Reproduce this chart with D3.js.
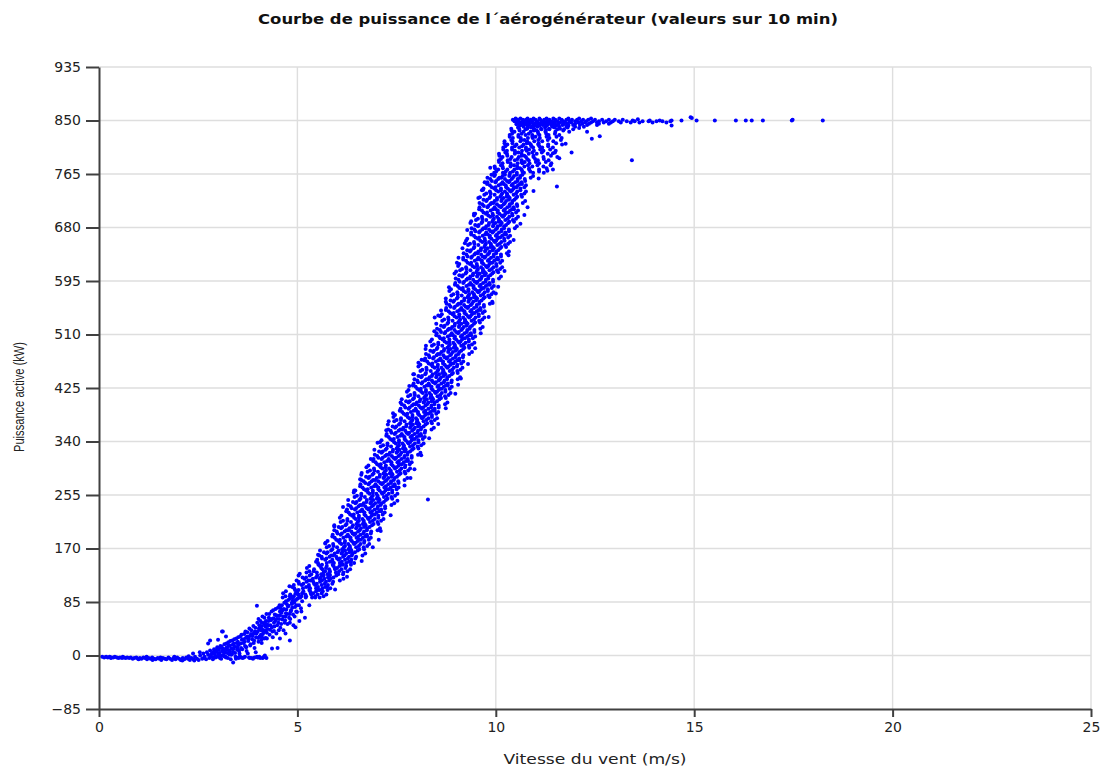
<!DOCTYPE html>
<html><head><meta charset="utf-8">
<script src="https://cdn.jsdelivr.net/npm/d3@7"></script>
<style>body{margin:0;background:#fff}svg{display:block}</style>
</head><body><svg id="c" width="1106" height="770"></svg>
<script>
const title = "Courbe de puissance de l´aérogénérateur (valeurs sur 10 min)";
const xLabel = "Vitesse du vent (m/s)";
const yLabel = "Puissance active (kW)";
const xTicks = [0,5,10,15,20,25];
const yTicks = [-85,0,85,170,255,340,425,510,595,680,765,850,935];

// [wind speed m/s, power kW]
const flatPoints = [[0.08,-2],[0.13,-3],[0.18,-2],[0.22,-3],[0.27,-2],[0.31,-3],[0.36,-3],[0.4,-2],[0.45,-3],[0.49,-4],[0.53,-3],[0.58,-4],[0.62,-3],[0.67,-4],[0.71,-3],[0.76,-4],[0.8,-3],[0.85,-5],[0.89,-4],[0.94,-3],[0.98,-5],[1.03,-4],[1.07,-5],[1.12,-3],[1.16,-4],[1.21,-6],[1.25,-4],[1.3,-5],[1.34,-3],[1.39,-5],[1.43,-6],[1.48,-4],[1.52,-5],[1.57,-7],[1.61,-4],[1.66,-5],[1.7,-6],[1.75,-3],[1.79,-5],[1.84,-7],[1.88,-4],[1.93,-6],[1.97,-3],[2.02,-5],[2.06,-7],[2.11,-4],[2.15,-6],[2.2,-3],[2.24,-5],[2.29,-7],[2.33,-4],[2.38,-6],[2.42,-2],[2.47,-5],[2.51,-7],[0.6,-2],[1.0,-6],[1.35,-7],[1.55,-3],[1.9,-2],[2.1,-8],[2.26,-1],[2.4,-8],[1.2,-2],[0.3,-4]];

const lowPoints = [[2.55,0],[2.6,-5],[2.63,3],[2.66,-2],[2.7,-6],[2.72,5],[2.75,1],[2.78,-4],[2.8,8],[2.82,-1],[2.85,4],[2.87,-6],[2.9,10],[2.92,2],[2.94,-3],[2.96,6],[2.98,13],[3.0,-2],[3.02,9],[3.04,4],[3.06,15],[3.08,-5],[3.1,7],[3.12,11],[3.14,1],[3.16,18],[3.18,5],[3.2,-3],[3.22,13],[3.24,9],[3.26,21],[3.28,2],[3.3,16],[3.32,-6],[3.34,11],[3.36,24],[3.38,6],[3.4,19],[3.42,14],[3.44,-2],[3.46,27],[3.48,9],[3.5,22],[3.52,17],[3.54,3],[3.56,30],[3.58,12],[3.6,25],[3.62,-4],[3.64,20],[3.66,34],[3.68,15],[3.7,28],[3.72,7],[3.74,37],[3.76,23],[3.78,-3],[3.8,31],[3.82,18],[3.84,40],[3.86,26],[3.88,-5],[3.9,35],[3.92,12],[3.94,44],[3.96,29],[3.98,-2],[4.0,38],[4.02,22],[4.04,48],[4.06,-4],[4.08,33],[4.1,52],[4.12,41],[4.14,-3],[4.16,27],[4.18,0],[4.22,-4],[4.2,46],
[2.37,3],[2.54,5],[2.8,24],[2.75,19],[3.0,25],[3.1,38],[3.12,38],[3.98,79],[3.38,-11],[3.2,30],
[2.65,-4],[2.88,-3],[3.05,-4],[3.25,-4],[3.45,-5],[3.65,-3],[3.85,-4],[4.0,-3],[3.15,-1],[3.35,2],[3.55,-1],[3.75,3],[3.95,5],[3.3,6],[3.5,10],[3.7,14],[3.9,20],[4.1,30],
[4.02,58],[4.05,30],[4.07,45],[4.1,20],[4.12,62],[4.15,37],[4.17,50],[4.2,28],[4.22,66],[4.25,42],[4.27,55],[4.3,33],[4.32,48],[4.35,70],[4.37,38],[4.4,59],[4.42,46],[4.45,74],[4.47,35],[4.5,63],[4.52,52],[4.55,80],[4.57,44],[4.6,68],[4.62,57],[4.65,40],[4.67,84],[4.7,62],[4.72,73],[4.75,50],[4.77,88],[4.8,66],[4.82,58],[4.85,93],[4.87,76],[4.9,48],[4.92,84],[4.95,98],[4.97,70],[5.0,90],[4.33,56],[4.48,58],[4.63,72],[4.78,79],[4.93,62],[4.18,53],[4.28,60],[4.43,65],[4.58,75],[4.73,82],[4.88,87],[4.38,29],[4.53,40],[4.68,52],[4.83,70],[4.98,80],[4.08,40],[4.24,49],[4.41,52],[4.56,64],[4.71,67],[4.86,82],
[4.23,27],[4.56,27],[4.81,24],[4.36,11],[4.81,52],[5.19,60],[4.5,12],[4.7,35],[4.95,45],[5.1,70],[5.3,80],[5.05,55],[5.45,92]];

const lowPoints2 = [[2.83,2],[2.89,6],[2.93,-1],[2.97,9],[3.01,3],[3.03,12],[3.07,0],[3.09,14],[3.13,6],[3.17,10],[3.19,-2],[3.21,19],[3.23,4],[3.27,15],[3.29,8],[3.31,23],[3.33,1],[3.37,17],[3.39,11],[3.41,26],[3.43,4],[3.47,20],[3.49,14],[3.51,29],[3.53,7],[3.57,19],[3.59,33],[3.61,10],[3.63,26],[3.67,22],[3.69,38],[3.71,13],[3.73,30],[3.77,27],[3.79,43],[3.81,16],[3.83,34],[3.87,31],[3.89,47],[3.91,24],[3.93,38],[3.97,35],[3.99,52],[4.01,28],[4.03,43],[4.07,55],[4.09,25],[4.11,47],[4.13,34],[4.17,60],[4.19,40],[4.21,55],[4.23,36],[4.27,48],[4.29,66],[4.31,41],[4.34,58],[4.36,45],[4.39,72],[4.41,39],[4.44,55],[4.46,64],[4.49,48],[4.51,76],[4.54,58],[4.56,70],[4.59,50],[4.61,80],[4.64,62],[4.66,74],[4.69,56],[4.71,86],[4.74,66],[4.76,78],[4.79,60],[4.81,90],[4.84,72],[4.86,84],[4.89,65],[4.91,94],[4.94,77],[4.96,88],[4.99,69],[5.02,96],[5.04,80],[5.07,92],[5.09,75],[5.12,86],
[3.58,-3],[3.68,-2],[3.8,-4],[3.92,-3],[4.04,-2],[4.12,-4],[4.16,-2],[3.46,-3],[3.52,-4]];

// rows: [power kW, wind speeds of the points at that power...]
const rampRows = [
[92,4.63,4.89,5.06,5.21,5.37,5.56],[97,4.82,5.03,5.20,5.35,5.51,5.73],[102,4.71,4.98,5.15,5.32,5.47,5.64],[107,4.92,5.14,5.32,5.47,5.63,5.83],
[112,4.91,5.11,5.29,5.45,5.61,5.77],[117,5.03,5.23,5.40,5.57,5.72,5.90],[122,5.18,5.39,5.56,5.68,5.84,6.16],[127,5.03,5.31,5.50,5.66,5.82,5.98],
[132,5.23,5.49,5.66,5.81,5.97,6.16],[137,5.42,5.63,5.80,5.95,6.11,6.33],[142,5.30,5.57,5.74,5.91,6.06,6.23],[147,5.52,5.74,5.92,6.07,6.23,6.43],
[152,5.50,5.70,5.88,6.04,6.20,6.36],[157,5.61,5.81,5.98,6.15,6.30,6.48],[162,5.73,5.94,6.11,6.23,6.39,6.71],[167,5.57,5.85,6.04,6.20,6.36,6.52],
[172,5.74,6.00,6.17,6.32,6.48,6.67],[177,5.90,6.11,6.28,6.43,6.59,6.81],[182,5.76,6.03,6.20,6.37,6.52,6.69],[187,5.94,6.16,6.34,6.49,6.65,6.85],
[192,5.89,6.09,6.27,6.43,6.59,6.75],[197,5.99,6.19,6.36,6.53,6.68,6.86],[202,6.10,6.31,6.48,6.60,6.76,7.08],[207,5.93,6.21,6.40,6.56,6.72,6.88],
[212,6.09,6.35,6.52,6.67,6.83,7.02],[217,6.26,6.47,6.64,6.79,6.95,7.17],[222,6.11,6.38,6.55,6.72,6.87,7.04],[227,6.29,6.51,6.69,6.84,7.00,7.20],
[232,6.25,6.45,6.63,6.79,6.95,7.11],[237,6.34,6.54,6.71,6.88,7.03,7.21],[242,6.46,6.67,6.84,6.96,7.12,7.44],[247,6.28,6.56,6.75,6.91,7.07,7.23],
[252,6.44,6.70,6.87,7.02,7.18,7.37],[257,6.61,6.82,6.99,7.14,7.30,7.52],[262,6.46,6.73,6.90,7.07,7.22,7.39],[267,6.64,6.86,7.04,7.19,7.35,7.55],
[272,6.59,6.79,6.97,7.13,7.29,7.45],[277,6.67,6.87,7.04,7.21,7.36,7.54],[282,6.79,7.00,7.17,7.29,7.45,7.77],[287,6.61,6.89,7.08,7.24,7.40,7.56],
[292,6.77,7.03,7.20,7.35,7.51,7.70],[297,6.93,7.14,7.31,7.46,7.62,7.84],[302,6.79,7.06,7.23,7.40,7.55,7.72],[307,6.97,7.19,7.37,7.52,7.68,7.88],
[312,6.92,7.12,7.30,7.46,7.62,7.78],[317,7.01,7.21,7.38,7.55,7.70,7.88],[322,7.12,7.33,7.50,7.62,7.78,8.10],[327,6.94,7.22,7.41,7.57,7.73,7.89],
[332,7.10,7.36,7.53,7.68,7.84,8.03],[337,7.27,7.48,7.65,7.80,7.96,8.18],[342,7.12,7.39,7.56,7.73,7.88,8.05],[347,7.30,7.52,7.70,7.85,8.01,8.21],
[352,7.25,7.45,7.63,7.79,7.95,8.11],[357,7.35,7.55,7.72,7.89,8.04,8.22],[362,7.46,7.67,7.84,7.96,8.12,8.44],[367,7.28,7.56,7.75,7.91,8.07,8.23],
[372,7.44,7.70,7.87,8.02,8.18,8.37],[377,7.61,7.82,7.99,8.14,8.30,8.52],[382,7.46,7.73,7.90,8.07,8.22,8.39],[387,7.64,7.86,8.04,8.19,8.35,8.55],
[392,7.60,7.80,7.98,8.14,8.30,8.46],[397,7.69,7.89,8.06,8.23,8.38,8.56],[402,7.80,8.01,8.18,8.30,8.46,8.78],[407,7.63,7.91,8.10,8.26,8.42,8.58],
[412,7.79,8.05,8.22,8.37,8.53,8.72],[417,7.95,8.16,8.33,8.48,8.64,8.86],[422,7.80,8.07,8.24,8.41,8.56,8.73],[427,7.98,8.20,8.38,8.53,8.69,8.89],
[432,7.93,8.13,8.31,8.47,8.63,8.79],[437,8.02,8.22,8.39,8.56,8.71,8.89],[442,8.12,8.33,8.50,8.62,8.78,9.10],[447,7.94,8.22,8.41,8.57,8.73,8.89],
[452,8.10,8.36,8.53,8.68,8.84,9.03],[457,8.25,8.46,8.63,8.78,8.94,9.16],[462,8.10,8.37,8.54,8.71,8.86,9.03],[467,8.27,8.49,8.67,8.82,8.98,9.18],
[472,8.22,8.42,8.60,8.76,8.92,9.08],[477,8.31,8.51,8.68,8.85,9.00,9.18],[482,8.42,8.63,8.80,8.92,9.08,9.40],[487,8.23,8.51,8.70,8.86,9.02,9.18],
[492,8.39,8.65,8.82,8.97,9.13,9.32],[497,8.55,8.76,8.93,9.08,9.24,9.46],[502,8.39,8.66,8.83,9.00,9.15,9.32],[507,8.57,8.79,8.97,9.12,9.28,9.48],
[512,8.51,8.71,8.89,9.05,9.21,9.37],[517,8.59,8.79,8.96,9.13,9.28,9.46],[522,8.69,8.90,9.07,9.19,9.35,9.67],[527,8.50,8.78,8.97,9.13,9.29,9.45],
[532,8.65,8.91,9.08,9.23,9.39,9.58],[537,8.80,9.01,9.18,9.33,9.49,9.71],[542,8.64,8.91,9.08,9.25,9.40,9.57],[547,8.81,9.03,9.21,9.36,9.52,9.72],
[552,8.75,8.95,9.13,9.29,9.45,9.61],[557,8.83,9.03,9.20,9.37,9.52,9.70],[562,8.93,9.14,9.31,9.43,9.59,9.91],[567,8.74,9.02,9.21,9.37,9.53,9.69],
[572,8.88,9.14,9.31,9.46,9.62,9.81],[577,9.03,9.24,9.41,9.56,9.72,9.94],[582,8.87,9.14,9.31,9.48,9.63,9.80],[587,9.04,9.26,9.44,9.59,9.75,9.95],
[592,8.98,9.18,9.36,9.52,9.68,9.84],[597,9.06,9.26,9.43,9.60,9.75,9.93],[602,9.15,9.36,9.53,9.65,9.81,10.13],[607,8.96,9.24,9.43,9.59,9.75,9.91],
[612,9.10,9.36,9.53,9.68,9.84,10.03],[617,9.25,9.46,9.63,9.78,9.94,10.16],[622,9.08,9.35,9.52,9.69,9.84,10.01],[627,9.25,9.47,9.65,9.80,9.96,10.16],
[632,9.18,9.38,9.56,9.72,9.88,10.04],[637,9.26,9.46,9.63,9.80,9.95,10.13],[642,9.35,9.56,9.73,9.85,10.01,10.33],[647,9.16,9.44,9.63,9.79,9.95,10.11],
[652,9.30,9.56,9.73,9.88,10.04,10.23],[657,9.45,9.66,9.83,9.98,10.14,10.36],[662,9.28,9.55,9.72,9.89,10.04,10.21],[667,9.45,9.67,9.85,10.00,10.16,10.36],
[672,9.38,9.58,9.76,9.92,10.08,10.24],[677,9.46,9.66,9.83,10.00,10.15,10.33],[682,9.55,9.76,9.93,10.05,10.21,10.53],[687,9.36,9.64,9.83,9.99,10.15,10.31],
[692,9.50,9.76,9.93,10.08,10.24,10.43],[697,9.65,9.86,10.03,10.18,10.34,10.56],[702,9.48,9.75,9.92,10.09,10.24,10.41],[707,9.65,9.87,10.05,10.20,10.36,10.56],
[712,9.59,9.79,9.97,10.13,10.29,10.45],[717,9.66,9.86,10.03,10.20,10.35,10.53],[722,9.76,9.97,10.14,10.26,10.42,10.74],[727,9.56,9.84,10.03,10.19,10.35,10.51],
[732,9.71,9.97,10.14,10.29,10.45,10.64],[737,9.85,10.06,10.23,10.38,10.54,10.76],[742,9.69,9.96,10.13,10.30,10.45,10.62],[747,9.85,10.07,10.25,10.40,10.56,10.76],
[752,9.79,9.99,10.17,10.33,10.49,10.65],[757,9.86,10.06,10.23,10.40,10.55,10.73],[762,9.96,10.17,10.34,10.46,10.62,10.94]];

const rampRows2 = [
[94,4.70,4.81,5.10,5.22,5.45,5.66],[99,4.64,5.00,5.12,5.34,5.40,5.61],[104,4.94,5.03,5.30,5.51,5.56,5.76],[109,4.87,5.22,5.29,5.52,5.70,5.75],
[114,5.04,5.15,5.42,5.49,5.69,5.88],[119,4.98,5.28,5.33,5.62,5.80,6.07],[124,5.13,5.22,5.47,5.59,5.77,5.91],[129,5.35,5.60,5.76,5.81,6.03,6.15],
[134,5.30,5.41,5.70,5.82,6.05,6.26],[139,5.24,5.60,5.72,5.94,6.00,6.21],[144,5.53,5.62,5.89,6.10,6.15,6.35],[149,5.47,5.82,5.89,6.12,6.30,6.35],
[154,5.62,5.73,6.00,6.07,6.27,6.46],[159,5.55,5.85,5.90,6.19,6.37,6.64],[164,5.67,5.76,6.01,6.13,6.31,6.45],[169,5.88,6.13,6.29,6.34,6.56,6.68],
[174,5.80,5.91,6.20,6.32,6.55,6.76],[179,5.71,6.07,6.19,6.41,6.47,6.68],[184,5.98,6.07,6.34,6.55,6.60,6.80],[189,5.88,6.23,6.30,6.53,6.71,6.76],
[194,6.01,6.12,6.39,6.46,6.66,6.85],[199,5.93,6.23,6.28,6.57,6.75,7.02],[204,6.04,6.13,6.38,6.50,6.68,6.82],[209,6.24,6.49,6.65,6.70,6.92,7.04],
[214,6.15,6.26,6.55,6.67,6.90,7.11],[219,6.07,6.43,6.55,6.77,6.83,7.04],[224,6.33,6.42,6.69,6.90,6.95,7.15],[229,6.23,6.58,6.65,6.88,7.06,7.11],
[234,6.37,6.48,6.75,6.82,7.02,7.21],[239,6.28,6.58,6.63,6.92,7.10,7.37],[244,6.40,6.49,6.74,6.86,7.04,7.18],[249,6.59,6.84,7.00,7.05,7.27,7.39],
[254,6.50,6.61,6.90,7.02,7.25,7.46],[259,6.42,6.78,6.90,7.12,7.18,7.39],[264,6.68,6.77,7.04,7.25,7.30,7.50],[269,6.58,6.93,7.00,7.23,7.41,7.46],
[274,6.71,6.82,7.09,7.16,7.36,7.55],[279,6.61,6.91,6.96,7.25,7.43,7.70],[284,6.73,6.82,7.07,7.19,7.37,7.51],[289,6.92,7.17,7.33,7.38,7.60,7.72],
[294,6.83,6.94,7.23,7.35,7.58,7.79],[299,6.74,7.10,7.22,7.44,7.50,7.71],[304,7.01,7.10,7.37,7.58,7.63,7.83],[309,6.91,7.26,7.33,7.56,7.74,7.79],
[314,7.04,7.15,7.42,7.49,7.69,7.88],[319,6.95,7.25,7.30,7.59,7.77,8.04],[324,7.06,7.15,7.40,7.52,7.70,7.84],[329,7.25,7.50,7.66,7.71,7.93,8.05],
[334,7.16,7.27,7.56,7.68,7.91,8.12],[339,7.08,7.44,7.56,7.78,7.84,8.05],[344,7.34,7.43,7.70,7.91,7.96,8.16],[349,7.24,7.59,7.66,7.89,8.07,8.12],
[354,7.37,7.48,7.75,7.82,8.02,8.21],[359,7.29,7.59,7.64,7.93,8.11,8.38],[364,7.40,7.49,7.74,7.86,8.04,8.18],[369,7.59,7.84,8.00,8.05,8.27,8.39],
[374,7.50,7.61,7.90,8.02,8.25,8.46],[379,7.42,7.78,7.90,8.12,8.18,8.39],[384,7.68,7.77,8.04,8.25,8.30,8.50],[389,7.58,7.93,8.00,8.23,8.41,8.46],
[394,7.72,7.83,8.10,8.17,8.37,8.56],[399,7.63,7.93,7.98,8.27,8.45,8.72],[404,7.74,7.83,8.08,8.20,8.38,8.52],[409,7.94,8.19,8.35,8.40,8.62,8.74],
[414,7.85,7.96,8.25,8.37,8.60,8.81],[419,7.76,8.12,8.24,8.46,8.52,8.73],[424,8.02,8.11,8.38,8.59,8.64,8.84],[429,7.91,8.26,8.33,8.56,8.74,8.79],
[434,8.04,8.15,8.42,8.49,8.69,8.88],[439,7.95,8.25,8.30,8.59,8.77,9.04],[444,8.05,8.14,8.39,8.51,8.69,8.83],[449,8.24,8.49,8.65,8.70,8.92,9.04],
[454,8.15,8.26,8.55,8.67,8.90,9.11],[459,8.05,8.41,8.53,8.75,8.81,9.02],[464,8.31,8.40,8.67,8.88,8.93,9.13],[469,8.20,8.55,8.62,8.85,9.03,9.08],
[474,8.33,8.44,8.71,8.78,8.98,9.17],[479,8.24,8.54,8.59,8.88,9.06,9.33],[484,8.35,8.44,8.69,8.81,8.99,9.13],[489,8.53,8.78,8.94,8.99,9.21,9.33],
[494,8.44,8.55,8.84,8.96,9.19,9.40],[499,8.35,8.71,8.83,9.05,9.11,9.32],[504,8.60,8.69,8.96,9.17,9.22,9.42],[509,8.50,8.85,8.92,9.15,9.33,9.38],
[514,8.62,8.73,9.00,9.07,9.27,9.46],[519,8.52,8.82,8.87,9.16,9.34,9.61],[524,8.62,8.71,8.96,9.08,9.26,9.40],[529,8.80,9.05,9.21,9.26,9.48,9.60],
[534,8.70,8.81,9.10,9.22,9.45,9.66],[539,8.60,8.96,9.08,9.30,9.36,9.57],[544,8.85,8.94,9.21,9.42,9.47,9.67],[549,8.74,9.09,9.16,9.39,9.57,9.62],
[554,8.86,8.97,9.24,9.31,9.51,9.70],[559,8.76,9.06,9.11,9.40,9.58,9.85],[564,8.86,8.95,9.20,9.32,9.50,9.64],[569,9.04,9.29,9.45,9.50,9.72,9.84],
[574,8.93,9.04,9.33,9.45,9.68,9.89],[579,8.83,9.19,9.31,9.53,9.59,9.80],[584,9.08,9.17,9.44,9.65,9.70,9.90],[589,8.97,9.32,9.39,9.62,9.80,9.85],
[594,9.09,9.20,9.47,9.54,9.74,9.93],[599,8.99,9.29,9.34,9.63,9.81,10.08],[604,9.08,9.17,9.42,9.54,9.72,9.86],[609,9.26,9.51,9.67,9.72,9.94,10.06],
[614,9.15,9.26,9.55,9.67,9.90,10.11],[619,9.05,9.41,9.53,9.75,9.81,10.02],[624,9.29,9.38,9.65,9.86,9.91,10.11],[629,9.18,9.53,9.60,9.83,10.01,10.06],
[634,9.29,9.40,9.67,9.74,9.94,10.13],[639,9.19,9.49,9.54,9.83,10.01,10.28],[644,9.28,9.37,9.62,9.74,9.92,10.06],[649,9.46,9.71,9.87,9.92,10.14,10.26],
[654,9.35,9.46,9.75,9.87,10.10,10.31],[659,9.25,9.61,9.73,9.95,10.01,10.22],[664,9.49,9.58,9.85,10.06,10.11,10.31],[669,9.38,9.73,9.80,10.03,10.21,10.26],
[674,9.49,9.60,9.87,9.94,10.14,10.33],[679,9.39,9.69,9.74,10.03,10.21,10.48],[684,9.48,9.57,9.82,9.94,10.12,10.26],[689,9.66,9.91,10.07,10.12,10.34,10.46],
[694,9.55,9.66,9.95,10.07,10.30,10.51],[699,9.45,9.81,9.93,10.15,10.21,10.42],[704,9.69,9.78,10.05,10.26,10.31,10.51],[709,9.58,9.93,10.00,10.23,10.41,10.46],
[714,9.70,9.81,10.08,10.15,10.35,10.54],[719,9.59,9.89,9.94,10.23,10.41,10.68],[724,9.69,9.78,10.03,10.15,10.33,10.47],[729,9.86,10.11,10.27,10.32,10.54,10.66],
[734,9.76,9.87,10.16,10.28,10.51,10.72],[739,9.65,10.01,10.13,10.35,10.41,10.62],[744,9.90,9.99,10.26,10.47,10.52,10.72],[749,9.78,10.13,10.20,10.43,10.61,10.66],
[754,9.90,10.01,10.28,10.35,10.55,10.74],[759,9.79,10.09,10.14,10.43,10.61,10.88],[764,9.89,9.98,10.23,10.35,10.53,10.67]];

const topRows = [
[767,9.96,10.18,10.36,10.53,10.71,10.94,11.21],[772,10.06,10.29,10.47,10.65,10.84,11.09,11.44],[777,9.97,10.17,10.37,10.54,10.72,10.92,11.20],[782,10.17,10.37,10.55,10.67,10.85,11.09,11.40],
[787,10.08,10.30,10.48,10.65,10.83,11.06,11.33],[792,10.17,10.40,10.58,10.76,10.95,11.20,11.55],[797,10.08,10.28,10.48,10.65,10.83,11.03,11.31],[802,10.28,10.48,10.66,10.78,10.96,11.20,11.51],
[807,10.19,10.41,10.59,10.76,10.94,11.17,11.44],[812,10.29,10.52,10.70,10.88,11.07,11.32,11.67],[817,10.22,10.42,10.62,10.79,10.97,11.17,11.45],[822,10.43,10.63,10.81,10.93,11.11,11.35,11.66],
[827,10.35,10.57,10.75,10.92,11.10,11.33,11.60],[832,10.47,10.70,10.88,11.06,11.25,11.50,11.85],[837,10.39,10.59,10.79,10.96,11.14,11.34,11.62],[842,10.60,10.80,10.98,11.10,11.28,11.52,11.83],
[769,10.01,10.25,10.43,10.67,10.87,11.09],[774,9.98,10.18,10.54,10.61,10.84,11.28],[779,10.13,10.38,10.46,10.81,11.05,11.38],[784,10.08,10.30,10.65,10.73,11.01,11.26],
[789,10.13,10.37,10.55,10.79,10.99,11.21],[794,10.09,10.29,10.65,10.72,10.95,11.39],[799,10.24,10.49,10.57,10.92,11.16,11.49],[804,10.19,10.41,10.76,10.84,11.12,11.37],
[809,10.24,10.48,10.66,10.90,11.10,11.32],[814,10.22,10.42,10.78,10.85,11.08,11.52],[819,10.39,10.64,10.72,11.07,11.31,11.64],[824,10.35,10.57,10.92,11.00,11.28,11.53],
[829,10.41,10.65,10.83,11.07,11.27,11.49],[834,10.40,10.60,10.96,11.03,11.26,11.70],[839,10.56,10.81,10.89,11.24,11.48,11.81],[844,10.52,10.74,11.09,11.17,11.45,11.70]];

const plateauRows = [
[853,10.5,10.62,10.8,10.95,11.1,11.28,11.45,11.6,11.83,12.1,12.4],
[851,10.43,10.55,10.68,10.76,10.88,11.0,11.12,11.22,11.35,11.5,11.66,11.78,11.92,12.05,12.2,12.33,12.5,12.68,12.85,13.0,13.2],
[849,10.47,10.58,10.7,10.83,10.92,11.05,11.17,11.3,11.42,11.55,11.7,11.86,12.0,12.15,12.28,12.45,12.6,12.78,12.95,13.1,13.3,13.5,13.7,13.85,14.05,14.2,14.4],
[847,10.52,10.65,10.78,10.9,11.02,11.15,11.25,11.38,11.48,11.62,11.75,11.9,12.08,12.25,12.4,12.55,12.72,12.9,13.15,13.4,13.62,13.95,14.3],
[845,10.6,10.73,10.86,10.98,11.1,11.2,11.33,11.45,11.58,11.72,11.82,12.0,12.18,12.35,12.6,12.85],
[843,10.66,10.82,10.95,11.06,11.18,11.3,11.4,11.53,11.68,11.8,11.95,12.12,12.3,12.55],
[840,10.7,10.9,11.05,11.25,11.42,11.6,11.78,12.0,12.22],
[836,10.75,10.97,11.15,11.35,11.55,11.72,11.95]];

// scattered points along both edges of the band
const edgePoints = [[5.70,178],[5.93,205],[6.15,236],[6.43,262],[6.62,290],[6.85,312],[7.02,338],[7.24,358],[7.41,385],[7.60,402],[7.82,428],[7.92,447],[8.13,470],[8.24,492],[8.45,515],[8.55,540],[8.74,562],[8.82,585],[9.00,610],[9.06,632],[9.22,655],[9.28,676],[9.45,702],[9.60,728],[9.72,752],[9.86,775],[5.52,160],[6.58,280],[7.30,372],[8.05,465],[8.62,548],[9.02,624],[9.38,690],[9.68,740],[5.06,130],[4.80,110],
[5.95,105],[6.25,125],[6.62,150],[6.90,172],[7.10,198],[7.35,223],[7.52,246],[7.70,270],[7.95,296],[8.12,318],[8.32,345],[8.55,368],[8.74,393],[8.98,416],[9.12,440],[9.30,463],[9.48,488],[9.62,512],[9.82,538],[9.92,560],[10.06,586],[10.22,611],[10.32,636],[10.45,660],[10.62,686],[10.80,712],[10.95,738],[11.08,758],[7.05,184],[7.85,282],[9.05,430],[10.0,575],[10.72,700]];

const sparsePoints = [[13.45,850],[13.58,852],[13.88,850],[14.13,850],[14.43,842],[14.43,850],[14.68,850],[14.91,855],[14.94,854],[15.06,850],[15.52,850],[16.05,850],[16.3,850],[16.45,850],[16.73,850],[17.46,850],[17.48,851],[18.24,850],[13.43,787],[8.29,248],[12.42,821],[12.62,825],[11.91,799],[11.54,745],[11.76,813],[11.44,798],[8.46,537],[12.1,838],[12.3,832],[11.6,790],[11.3,770]];

// restructure rows into [v,p] pairs
const rowsToPairs = rows => rows.flatMap(r => r.slice(1).map(v => [v, r[0]]));
const points = [].concat(flatPoints, lowPoints, lowPoints2, rowsToPairs(rampRows), rowsToPairs(rampRows2), rowsToPairs(topRows), rowsToPairs(plateauRows), edgePoints, sparsePoints);

const svg = d3.select("#c");
const x = d3.scaleLinear().domain([0,25]).range([99,1091]);
const y = d3.scaleLinear().domain([-85,935]).range([709,67]);
const font = "'DejaVu Sans', Verdana, sans-serif";

// grid
svg.append("g").selectAll("line").data(yTicks.filter(d=>d!==-85)).join("line")
  .attr("x1",x(0)).attr("x2",x(25)).attr("y1",d=>y(d)).attr("y2",d=>y(d))
  .attr("stroke","#dedede").attr("stroke-width",1.4);
svg.append("g").selectAll("line").data(xTicks.filter(d=>d!==0)).join("line")
  .attr("x1",d=>x(d)).attr("x2",d=>x(d)).attr("y1",y(935)).attr("y2",y(-85))
  .attr("stroke","#dedede").attr("stroke-width",1.4);

// points
svg.append("g").selectAll("circle").data(points).join("circle")
  .attr("cx",d=>x(d[0])).attr("cy",d=>y(d[1])).attr("r",2)
  .attr("fill","#0000ff");

// axes
const gx = svg.append("g").attr("transform",`translate(0,${y(-85)})`)
  .call(d3.axisBottom(x).tickValues(xTicks).tickSize(8).tickPadding(5).tickSizeOuter(0).tickFormat(d3.format("d")));
const gy = svg.append("g").attr("transform",`translate(${x(0)},0)`)
  .call(d3.axisLeft(y).tickValues(yTicks).tickSize(13).tickPadding(5).tickSizeOuter(0).tickFormat(d3.format("d")));
[gx,gy].forEach(g=>{
  g.select(".domain").attr("stroke","#404040").attr("stroke-width",2);
  g.selectAll(".tick line").attr("stroke","#404040").attr("stroke-width",2);
  g.selectAll(".tick text").attr("fill","#222").style("font-family",font).style("font-size","14px");
});

// titles
svg.append("text").attr("x",548).attr("y",24).attr("text-anchor","middle")
  .style("font-family",font).style("font-size","14px").style("font-weight","bold").attr("fill","#111")
  .attr("textLength",580).attr("lengthAdjust","spacingAndGlyphs").text(title);
svg.append("text").attr("x",(x(0)+x(25))/2).attr("y",764).attr("text-anchor","middle")
  .style("font-family",font).style("font-size","14px").attr("fill","#222")
  .attr("textLength",183).attr("lengthAdjust","spacingAndGlyphs").text(xLabel);
svg.append("text").attr("transform","translate(24,397) rotate(-90)").attr("text-anchor","middle")
  .style("font-family","'Liberation Sans Narrow','Arial Narrow','Liberation Sans',sans-serif").style("font-size","14px")
  .attr("textLength",110).attr("lengthAdjust","spacingAndGlyphs").attr("fill","#222").text(yLabel);
</script></body></html>
